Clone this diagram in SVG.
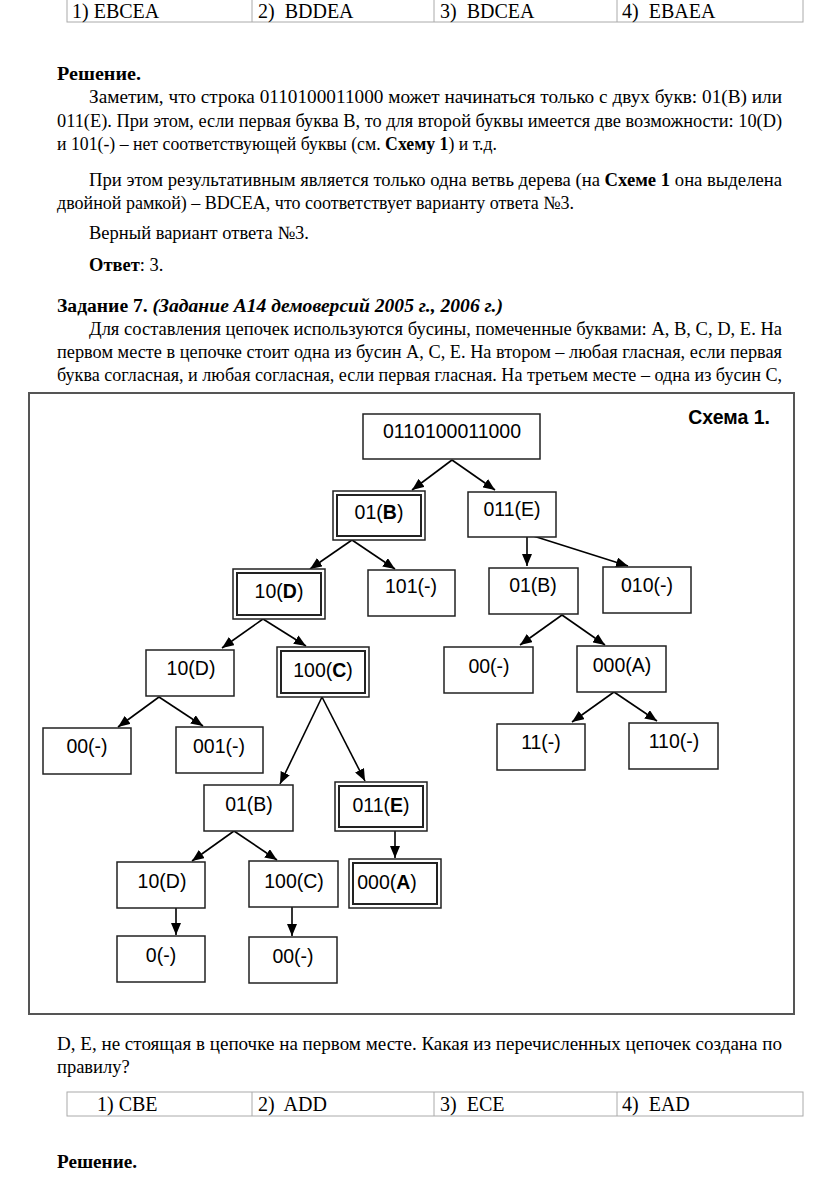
<svg xmlns="http://www.w3.org/2000/svg" width="816" height="1182" viewBox="0 0 816 1182">
<defs>
<style>
.t{font-family:"Liberation Serif","Times New Roman",serif;font-size:18.5px;fill:#000}
.tt{font-family:"Liberation Serif","Times New Roman",serif;font-size:20px;fill:#000}
.b{font-weight:bold}
.bi{font-weight:bold;font-style:italic}
.n{font-family:"Liberation Sans",Arial,sans-serif;font-size:19.5px;fill:#000;text-anchor:middle}
.box{fill:#fff;stroke:#222;stroke-width:1.5}
.dbl{fill:none;stroke:#222;stroke-width:2}
.tbl{fill:none;stroke:#aaa;stroke-width:1}
.frame{fill:none;stroke:#555;stroke-width:2}
.c{stroke:#000;stroke-width:1.6;fill:none;marker-end:url(#ah)}
</style>
<marker id="ah" markerUnits="userSpaceOnUse" markerWidth="12" markerHeight="10" refX="12" refY="5" orient="auto">
<path d="M0,0 L12,5 L0,10 z" fill="#000"/>
</marker>
</defs>
<rect width="816" height="1182" fill="#fff"/>

<g id="table-top">
<rect class="tbl" x="67" y="-1" width="736" height="23"/>
<line class="tbl" x1="252" y1="-1" x2="252" y2="22"/>
<line class="tbl" x1="434" y1="-1" x2="434" y2="22"/>
<line class="tbl" x1="617" y1="-1" x2="617" y2="22"/>
<text class="tt" x="72" y="18">1) EBCEA</text>
<text class="tt" x="258" y="18" xml:space="preserve">2)  BDDEA</text>
<text class="tt" x="440" y="18" xml:space="preserve">3)  BDCEA</text>
<text class="tt" x="622" y="18" xml:space="preserve">4)  EBAEA</text>
</g>

<g id="text-top">
<text class="t b" x="57" y="80" textLength="84" lengthAdjust="spacingAndGlyphs">Решение.</text>
<text class="t" x="89" y="103" textLength="693" lengthAdjust="spacingAndGlyphs">Заметим, что строка 0110100011000 может начинаться только с двух букв: 01(B) или</text>
<text class="t" x="57" y="127" textLength="725" lengthAdjust="spacingAndGlyphs">011(E). При этом, если первая буква B, то для второй буквы имеется две возможности: 10(D)</text>
<text class="t" x="57" y="150" textLength="440" lengthAdjust="spacingAndGlyphs">и 101(-) – нет соответствующей буквы (см. <tspan class="b">Схему 1</tspan>) и т.д.</text>
<text class="t" x="89" y="186" textLength="693" lengthAdjust="spacingAndGlyphs">При этом результативным является только одна ветвь дерева (на <tspan class="b">Схеме 1</tspan> она выделена</text>
<text class="t" x="57" y="209" textLength="517" lengthAdjust="spacingAndGlyphs">двойной рамкой) – BDCEA, что соответствует варианту ответа №3.</text>
<text class="t" x="89" y="239">Верный вариант ответа №3.</text>
<text class="t" x="89" y="271"><tspan class="b">Ответ</tspan>: 3.</text>
<text class="t" x="57" y="312" textLength="446" lengthAdjust="spacingAndGlyphs"><tspan class="b">Задание 7. </tspan><tspan class="bi">(Задание А14 демоверсий 2005 г., 2006 г.)</tspan></text>
<text class="t" x="89" y="335" textLength="693" lengthAdjust="spacingAndGlyphs">Для составления цепочек используются бусины, помеченные буквами: A, B, C, D, E. На</text>
<text class="t" x="57" y="358" textLength="725" lengthAdjust="spacingAndGlyphs">первом месте в цепочке стоит одна из бусин A, C, E. На втором – любая гласная, если первая</text>
<text class="t" x="57" y="381" textLength="725" lengthAdjust="spacingAndGlyphs">буква согласная, и любая согласная, если первая гласная. На третьем месте – одна из бусин C,</text>
</g>

<g id="frame">
<rect class="frame" x="29" y="393" width="765" height="621"/>
<text x="770" y="424" font-family="Liberation Sans,Arial,sans-serif" font-size="19.5" font-weight="bold" text-anchor="end">Схема 1.</text>
</g>

<g id="connectors">
<line class="c" x1="452" y1="460" x2="412" y2="490"/>
<line class="c" x1="452" y1="460" x2="495" y2="490"/>
<line class="c" x1="352" y1="540" x2="310" y2="569"/>
<line class="c" x1="352" y1="540" x2="395" y2="569"/>
<line class="c" x1="527" y1="534" x2="527" y2="566"/>
<line class="c" x1="527" y1="534" x2="628" y2="566"/>
<line class="c" x1="263" y1="619" x2="222" y2="648"/>
<line class="c" x1="263" y1="619" x2="306" y2="646"/>
<line class="c" x1="562" y1="615" x2="520" y2="645"/>
<line class="c" x1="562" y1="615" x2="605" y2="645"/>
<line class="c" x1="159" y1="697" x2="118" y2="727"/>
<line class="c" x1="159" y1="697" x2="203" y2="726"/>
<line class="c" x1="322" y1="697" x2="280" y2="784"/>
<line class="c" x1="322" y1="697" x2="365" y2="781"/>
<line class="c" x1="614" y1="692" x2="572" y2="722"/>
<line class="c" x1="614" y1="692" x2="657" y2="721"/>
<line class="c" x1="234" y1="831" x2="192" y2="861"/>
<line class="c" x1="234" y1="831" x2="277" y2="860"/>
<line class="c" x1="395" y1="831" x2="395" y2="858"/>
<line class="c" x1="176" y1="908" x2="176" y2="935"/>
<line class="c" x1="292" y1="907" x2="292" y2="936"/>
</g>

<g id="n-root"><rect class="box" x="363" y="414" width="177" height="45"/><text class="n" x="452" y="438">0110100011000</text></g>
<g id="n-01B-1"><rect class="box" x="333" y="491" width="92" height="49"/><rect class="dbl" x="337" y="495" width="84" height="41"/><text class="n" x="379" y="519">01(<tspan font-weight="bold">B</tspan>)</text></g>
<g id="n-011E-1"><rect class="box" x="468" y="492" width="88" height="45"/><text class="n" x="512" y="516">011(E)</text></g>
<g id="n-10D-1"><rect class="box" x="233" y="569" width="92" height="50"/><rect class="dbl" x="237" y="573" width="84" height="42"/><text class="n" x="279" y="598">10(<tspan font-weight="bold">D</tspan>)</text></g>
<g id="n-101"><rect class="box" x="368" y="570" width="87" height="46"/><text class="n" x="411" y="593">101(-)</text></g>
<g id="n-01B-2"><rect class="box" x="489" y="568" width="89" height="46"/><text class="n" x="533" y="592">01(B)</text></g>
<g id="n-010"><rect class="box" x="603" y="567" width="88" height="46"/><text class="n" x="647" y="592">010(-)</text></g>
<g id="n-10D-2"><rect class="box" x="146" y="650" width="88" height="46"/><text class="n" x="191" y="675">10(D)</text></g>
<g id="n-100C-1"><rect class="box" x="277" y="647" width="92" height="50"/><rect class="dbl" x="281" y="651" width="84" height="42"/><text class="n" x="323" y="677">100(<tspan font-weight="bold">C</tspan>)</text></g>
<g id="n-00-1"><rect class="box" x="444" y="647" width="89" height="46"/><text class="n" x="489" y="673">00(-)</text></g>
<g id="n-000A-1"><rect class="box" x="577" y="646" width="89" height="46"/><text class="n" x="622" y="672">000(A)</text></g>
<g id="n-00-2"><rect class="box" x="43" y="728" width="88" height="46"/><text class="n" x="87" y="753">00(-)</text></g>
<g id="n-001"><rect class="box" x="176" y="727" width="87" height="46"/><text class="n" x="219" y="753">001(-)</text></g>
<g id="n-11"><rect class="box" x="497" y="724" width="88" height="46"/><text class="n" x="541" y="749">11(-)</text></g>
<g id="n-110"><rect class="box" x="629" y="723" width="89" height="46"/><text class="n" x="674" y="748">110(-)</text></g>
<g id="n-01B-3"><rect class="box" x="204" y="785" width="89" height="46"/><text class="n" x="249" y="811">01(B)</text></g>
<g id="n-011E-2"><rect class="box" x="335" y="782" width="92" height="49"/><rect class="dbl" x="339" y="786" width="84" height="41"/><text class="n" x="381" y="812">011(<tspan font-weight="bold">E</tspan>)</text></g>
<g id="n-10D-3"><rect class="box" x="117" y="862" width="88" height="46"/><text class="n" x="162" y="888">10(D)</text></g>
<g id="n-100C-2"><rect class="box" x="249" y="861" width="89" height="46"/><text class="n" x="294" y="888">100(C)</text></g>
<g id="n-000A-2"><rect class="box" x="349" y="859" width="92" height="49"/><rect class="dbl" x="353" y="863" width="84" height="41"/><text class="n" x="387" y="889">000(<tspan font-weight="bold">A</tspan>)</text></g>
<g id="n-0"><rect class="box" x="117" y="936" width="88" height="46"/><text class="n" x="161" y="962">0(-)</text></g>
<g id="n-00-3"><rect class="box" x="249" y="937" width="88" height="46"/><text class="n" x="293" y="963">00(-)</text></g>

<g id="text-bottom">
<text class="t" x="57" y="1050" textLength="725" lengthAdjust="spacingAndGlyphs">D, E, не стоящая в цепочке на первом месте. Какая из перечисленных цепочек создана по</text>
<text class="t" x="57" y="1073">правилу?</text>
<text class="t b" x="57" y="1168" textLength="80" lengthAdjust="spacingAndGlyphs">Решение.</text>
</g>

<g id="table-bottom">
<rect class="tbl" x="67" y="1092" width="736" height="24"/>
<line class="tbl" x1="252" y1="1092" x2="252" y2="1116"/>
<line class="tbl" x1="434" y1="1092" x2="434" y2="1116"/>
<line class="tbl" x1="617" y1="1092" x2="617" y2="1116"/>
<text class="tt" x="97" y="1111">1) CBE</text>
<text class="tt" x="258" y="1111" xml:space="preserve">2)  ADD</text>
<text class="tt" x="440" y="1111" xml:space="preserve">3)  ECE</text>
<text class="tt" x="622" y="1111" xml:space="preserve">4)  EAD</text>
</g>
</svg>
